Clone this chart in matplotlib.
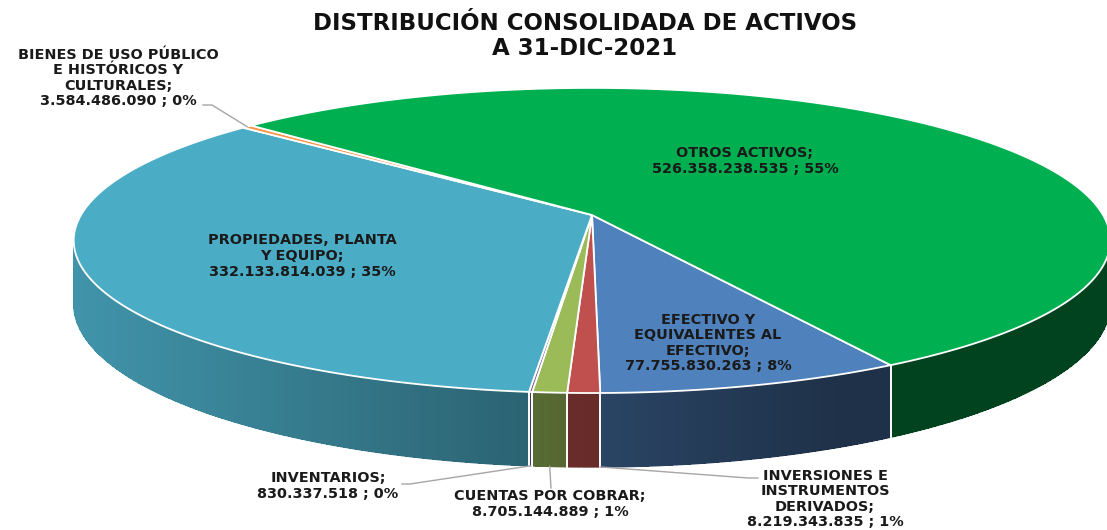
import numpy as np
import matplotlib
matplotlib.use("Agg")
import matplotlib.pyplot as plt
from matplotlib.colors import to_rgb
from matplotlib.collections import LineCollection

# data
categories = ["EFECTIVO Y\nEQUIVALENTES AL\nEFECTIVO",
              "INVERSIONES E\nINSTRUMENTOS\nDERIVADOS",
              "CUENTAS POR COBRAR",
              "INVENTARIOS",
              "PROPIEDADES, PLANTA\nY EQUIPO",
              "BIENES DE USO PÚBLICO\nE HISTÓRICOS Y\nCULTURALES",
              "OTROS ACTIVOS"]
values = [77755830263, 8219343835, 8705144889, 830337518,
          332133814039, 3584486090, 526358238535]
colors = ["#4F81BD", "#C0504D", "#9BBB59", "#8064A2",
          "#4BACC6", "#F79646", "#00AF50"]
title = "DISTRIBUCIÓN CONSOLIDADA DE ACTIVOS\nA 31-DIC-2021"

# pie geometry (pixel space, simple perspective)
AX, AY = 592, 215
RX, C, K, D = 511, 148.3, 0.167, 61.6
START = 60.0

def proj(phi, z=0.0):
    p = np.radians(phi)
    X, Y = np.cos(p), np.sin(p)
    w = 1 - K * Y
    return AX + RX * X / w, AY + (C * Y + D * z) / w

def shade(rgb, x):
    f = np.clip(0.86 - 0.52 * (x - 73) / 830, 0.38, 0.9)
    return tuple(c * f for c in rgb)

total = sum(values)
spans = [v / total * 360 for v in values]
bounds = START + np.concatenate([[0], np.cumsum(spans)])

fig = plt.figure(figsize=(11.07, 5.30), dpi=100)
ax = fig.add_axes([0, 0, 1, 1])
ax.set_xlim(0, 1107)
ax.set_ylim(530, 0)
ax.axis("off")

lo, hi = np.degrees(np.arcsin(K)), 180 - np.degrees(np.arcsin(K))

# side walls
for i in range(len(values)):
    a0, a1 = bounds[i], bounds[i + 1]
    base = to_rgb(colors[i])
    for off in (0, 360, -360):
        s0, s1 = max(a0 + off, lo), min(a1 + off, hi)
        if s1 <= s0:
            continue
        angs = np.linspace(s0, s1, max(2, int((s1 - s0) / 0.5) + 2))
        segs, cols = [], []
        for j in range(len(angs) - 1):
            xt0, yt0 = proj(angs[j]); xt1, yt1 = proj(angs[j + 1])
            xb0, yb0 = proj(angs[j], 1); xb1, yb1 = proj(angs[j + 1], 1)
            col = shade(base, (xt0 + xt1) / 2)
            ax.fill([xt0, xt1, xb1, xb0], [yt0, yt1, yb1, yb0],
                    color=col, lw=0, antialiased=False, zorder=1)
            segs.append([(xb0, yb0), (xb1, yb1)])
            cols.append(col)
        ax.add_collection(LineCollection(segs, colors=cols, lw=1, zorder=1.5))
        for a in (s0, s1):
            if lo < a < hi:
                xt, yt = proj(a); xb, yb = proj(a, 1)
                ax.plot([xt, xb], [yt, yb], color="white", lw=1.2, zorder=2)

# top faces
for i in range(len(values)):
    angs = np.linspace(bounds[i], bounds[i + 1], max(2, int(spans[i]) * 2 + 2))
    xs, ys = proj(angs)
    ax.fill(np.r_[AX, xs], np.r_[AY, ys], color=colors[i],
            ec="white", lw=1.3, zorder=3)

# labels
def label_text(i):
    v = f"{values[i]:,}".replace(",", ".")
    return f"{categories[i]};\n{v} ; {round(values[i] / total * 100)}%"

font = dict(family="DejaVu Sans", weight="bold", fontsize=10.4, color="#1a1a1a",
            ha="center", va="center", linespacing=1.15)
label_pos = [(708, 343), (825, 499), (550, 504), (328, 486),
             (302, 256), (118, 78), (745, 161)]
for i, (x, y) in enumerate(label_pos):
    ax.text(x, y, label_text(i), zorder=5, **font)

# leader lines (outside labels)
leaders = {1: ([758, 748], [478, 478], 0.0, 1),
           2: ([551], [488], 0.5, 1),
           3: ([402, 410], [484, 484], 0.5, 1),
           5: ([203, 212], [105, 105], 0.5, 0)}
for i, (lx, ly, frac, z) in leaders.items():
    ex, ey = proj(bounds[i] + frac * spans[i], z)
    ax.plot(lx + [ex], ly + [ey], color="#A6A6A6", lw=1, zorder=4)

ax.text(585, 36, title, family="DejaVu Sans", weight="bold", fontsize=16.5,
        ha="center", va="center", color="#111111", linespacing=1.12)

fig.savefig("out.png", dpi=100)
